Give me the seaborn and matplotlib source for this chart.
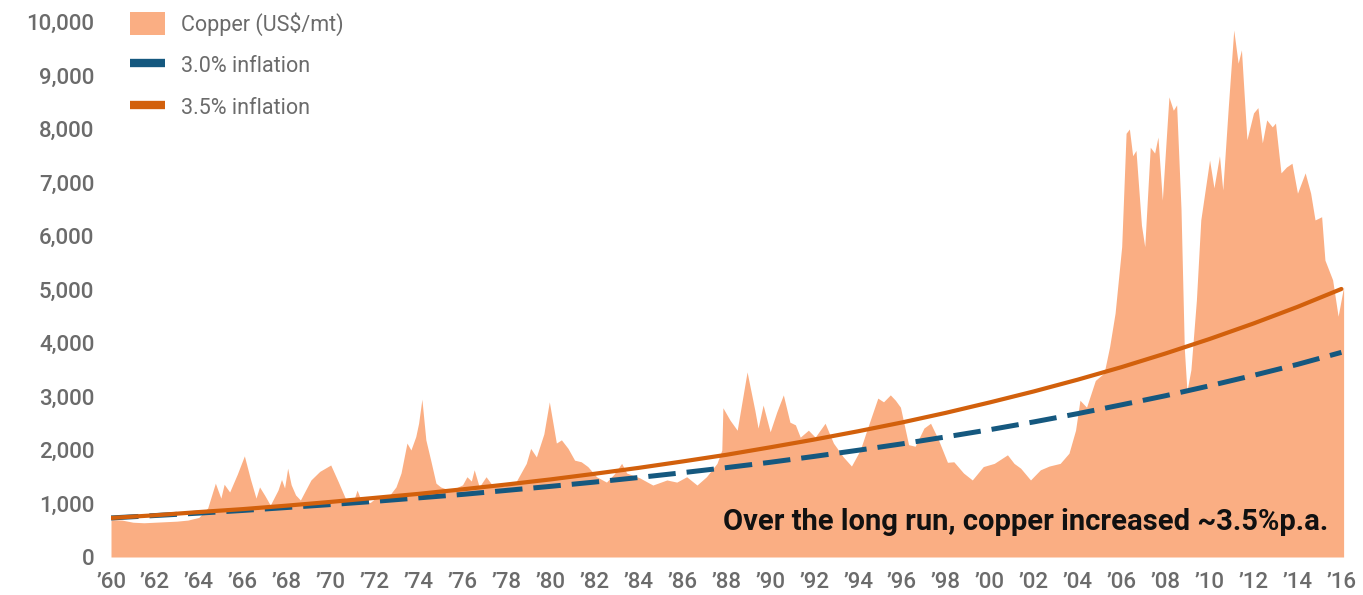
import matplotlib
matplotlib.use('Agg')
import matplotlib.pyplot as plt
from matplotlib.patches import Patch
from matplotlib.lines import Line2D
import seaborn as sns
import pandas as pd

# copper price (US$/mt), x in decimal years
copper_year = [
    1960.0, 1960.5, 1961.0, 1961.5, 1962.0, 1962.5, 1963.0, 1963.5, 1964.0, 1964.4,
    1964.75, 1965.0, 1965.15, 1965.4, 1965.75, 1966.07, 1966.35, 1966.6, 1966.76, 1967.0,
    1967.25, 1967.6, 1967.76, 1967.9, 1968.04, 1968.2, 1968.4, 1968.62, 1969.1, 1969.5,
    1970.0, 1970.35, 1970.7, 1971.0, 1971.2, 1971.4, 1971.8, 1972.1, 1972.5, 1972.97,
    1973.2, 1973.47, 1973.65, 1973.87, 1974.0, 1974.15, 1974.33, 1974.55, 1974.79, 1975.0,
    1975.4, 1975.7, 1976.0, 1976.2, 1976.4, 1976.53, 1976.76, 1977.07, 1977.35, 1977.8,
    1978.4, 1978.9, 1979.1, 1979.36, 1979.7, 1979.95, 1980.27, 1980.5, 1980.8, 1981.1,
    1981.4, 1981.7, 1982.1, 1982.55, 1982.9, 1983.24, 1983.47, 1984.06, 1984.66, 1985.3,
    1985.75, 1986.2, 1986.67, 1987.1, 1987.58, 1987.8, 1987.85, 1988.17, 1988.5, 1988.95,
    1989.3, 1989.45, 1989.68, 1990.0, 1990.3, 1990.6, 1990.9, 1991.15, 1991.37, 1991.74,
    1992.05, 1992.5, 1992.88, 1993.33, 1993.7, 1994.1, 1994.4, 1994.9, 1995.16, 1995.47,
    1995.7, 1995.93, 1996.3, 1996.6, 1997.0, 1997.3, 1997.65, 1998.07, 1998.36, 1998.8,
    1999.2, 1999.7, 2000.2, 2000.8, 2001.1, 2001.4, 2001.85, 2002.3, 2002.7, 2003.2,
    2003.6, 2003.9, 2004.1, 2004.4, 2004.8, 2005.2, 2005.45, 2005.7, 2006.0, 2006.2,
    2006.35, 2006.5, 2006.65, 2006.9, 2007.05, 2007.3, 2007.5, 2007.65, 2007.85, 2008.15,
    2008.35, 2008.5, 2008.7, 2008.85, 2008.97, 2009.15, 2009.4, 2009.6, 2009.85, 2010.0,
    2010.2, 2010.45, 2010.6, 2010.85, 2011.1, 2011.3, 2011.45, 2011.7, 2012.0, 2012.2,
    2012.4, 2012.6, 2012.85, 2013.0, 2013.25, 2013.5, 2013.75, 2014.0, 2014.35, 2014.6,
    2014.8, 2015.1, 2015.25, 2015.6, 2015.85, 2016.1,
]
copper_price = [
    700, 690, 650, 640, 650, 660, 670, 690, 740, 915,
    1380, 1100, 1360, 1215, 1550, 1890, 1450, 1100, 1310, 1150,
    970, 1250, 1450, 1290, 1660, 1350, 1160, 1065, 1440, 1600,
    1720, 1400, 1065, 1000, 1250, 1040, 1020, 1120, 1060, 1310,
    1570, 2130, 2000, 2250, 2500, 2950, 2190, 1810, 1380, 1310,
    1250, 1290, 1350, 1500, 1420, 1630, 1310, 1500, 1345, 1320,
    1380, 1750, 2030, 1870, 2300, 2900, 2130, 2190, 2030, 1810,
    1780, 1690, 1500, 1400, 1550, 1750, 1570, 1480, 1345, 1440,
    1400, 1500, 1345, 1500, 1750, 2000, 2790, 2560, 2370, 3460,
    2750, 2410, 2840, 2340, 2710, 3030, 2520, 2470, 2240, 2370,
    2240, 2500, 2130, 1870, 1700, 2000, 2370, 2970, 2900, 3030,
    2930, 2800, 2100, 2070, 2410, 2500, 2200, 1770, 1780, 1570,
    1440, 1690, 1750, 1910, 1750, 1660, 1440, 1630, 1700, 1750,
    1940, 2370, 2930, 2800, 3300, 3440, 3930, 4560, 5800, 7920,
    8000, 7500, 7600, 6200, 5800, 7660, 7550, 7850, 6670, 8600,
    8350, 8450, 6500, 3900, 3100, 3500, 4800, 6300, 7000, 7420,
    6900, 7500, 6860, 8400, 9850, 9230, 9480, 7800, 8300, 8400,
    7740, 8170, 8040, 8110, 7180, 7290, 7360, 6800, 7180, 6800,
    6300, 6360, 5550, 5180, 4500, 5050,
]

# inflation reference curves, every two years
infl_year = list(range(1960, 2017, 2))
infl_30 = [730, 775, 820, 870, 925, 980, 1040, 1105, 1170, 1245,
           1320, 1400, 1485, 1575, 1670, 1770, 1880, 1995, 2115, 2245,
           2380, 2525, 2680, 2845, 3015, 3200, 3395, 3600, 3825]
infl_35 = [730, 780, 840, 895, 960, 1030, 1105, 1180, 1265, 1355,
           1450, 1555, 1665, 1785, 1910, 2050, 2195, 2350, 2515, 2695,
           2890, 3095, 3315, 3550, 3805, 4075, 4365, 4675, 5010]

tick_years = list(range(1960, 2017, 2))
tick_labels = ['\u2019' + str(y)[2:] for y in tick_years]

copper_color = '#FAAE83'
blue = '#15587F'
orange = '#D2600C'
grey = '#6B6B6B'

df_cu = pd.DataFrame({'year': copper_year, 'price': copper_price})
df_inf = pd.DataFrame({'year': infl_year, 'p30': infl_30, 'p35': infl_35})

sns.set_style('white')
plt.rcParams['font.family'] = ['Roboto', 'DejaVu Sans']

fig = plt.figure(figsize=(13.63, 5.95), dpi=100)
ax = fig.add_axes([111 / 1363, 38 / 595, (1348 - 111) / 1363, (557 - 22) / 595])

ax.fill_between(df_cu['year'], df_cu['price'], 0, color=copper_color, linewidth=0)
sns.lineplot(data=df_inf, x='year', y='p30', ax=ax, color=blue, linewidth=3.6,
             dashes=False, zorder=3).lines[-1].set_dashes((5.5, 2.2))
sns.lineplot(data=df_inf, x='year', y='p35', ax=ax, color=orange, linewidth=3.0, zorder=4)

ax.set_xlim(1960, 2016.3)
ax.set_ylim(0, 10000)
ax.set_xticks(tick_years)
ax.set_xticklabels(tick_labels)
ax.set_yticks(range(0, 10001, 1000))
ax.set_yticklabels([f'{v:,}' for v in range(0, 10001, 1000)])
ax.tick_params(axis='y', length=0, labelsize=16, labelcolor=grey, pad=12)
ax.tick_params(axis='x', length=0, labelsize=16, labelcolor=grey, pad=11)
for lab in ax.get_xticklabels() + ax.get_yticklabels():
    lab.set_fontweight('medium')
ax.set_xlabel('')
ax.set_ylabel('')
sns.despine(ax=ax, left=True, bottom=True)

handles = [
    Patch(facecolor=copper_color, edgecolor='none'),
    Line2D([0], [0], color=blue, linewidth=6, solid_capstyle='butt'),
    Line2D([0], [0], color=orange, linewidth=6, solid_capstyle='butt'),
]
labels = ['Copper (US$/mt)', '3.0% inflation', '3.5% inflation']
leg = fig.legend(handles, labels, loc='upper left', bbox_to_anchor=(111 / 1363, 1.012),
                 frameon=False, fontsize=15.5, labelcolor=grey, handlelength=1.6,
                 handleheight=1.2, labelspacing=0.85, handletextpad=0.75)

ax.text(2015.4, 650, 'Over the long run, copper increased ~3.5%p.a.', ha='right',
        va='center', fontsize=21, fontweight='bold', color='#111111')

fig.savefig('out.png', dpi=100)
